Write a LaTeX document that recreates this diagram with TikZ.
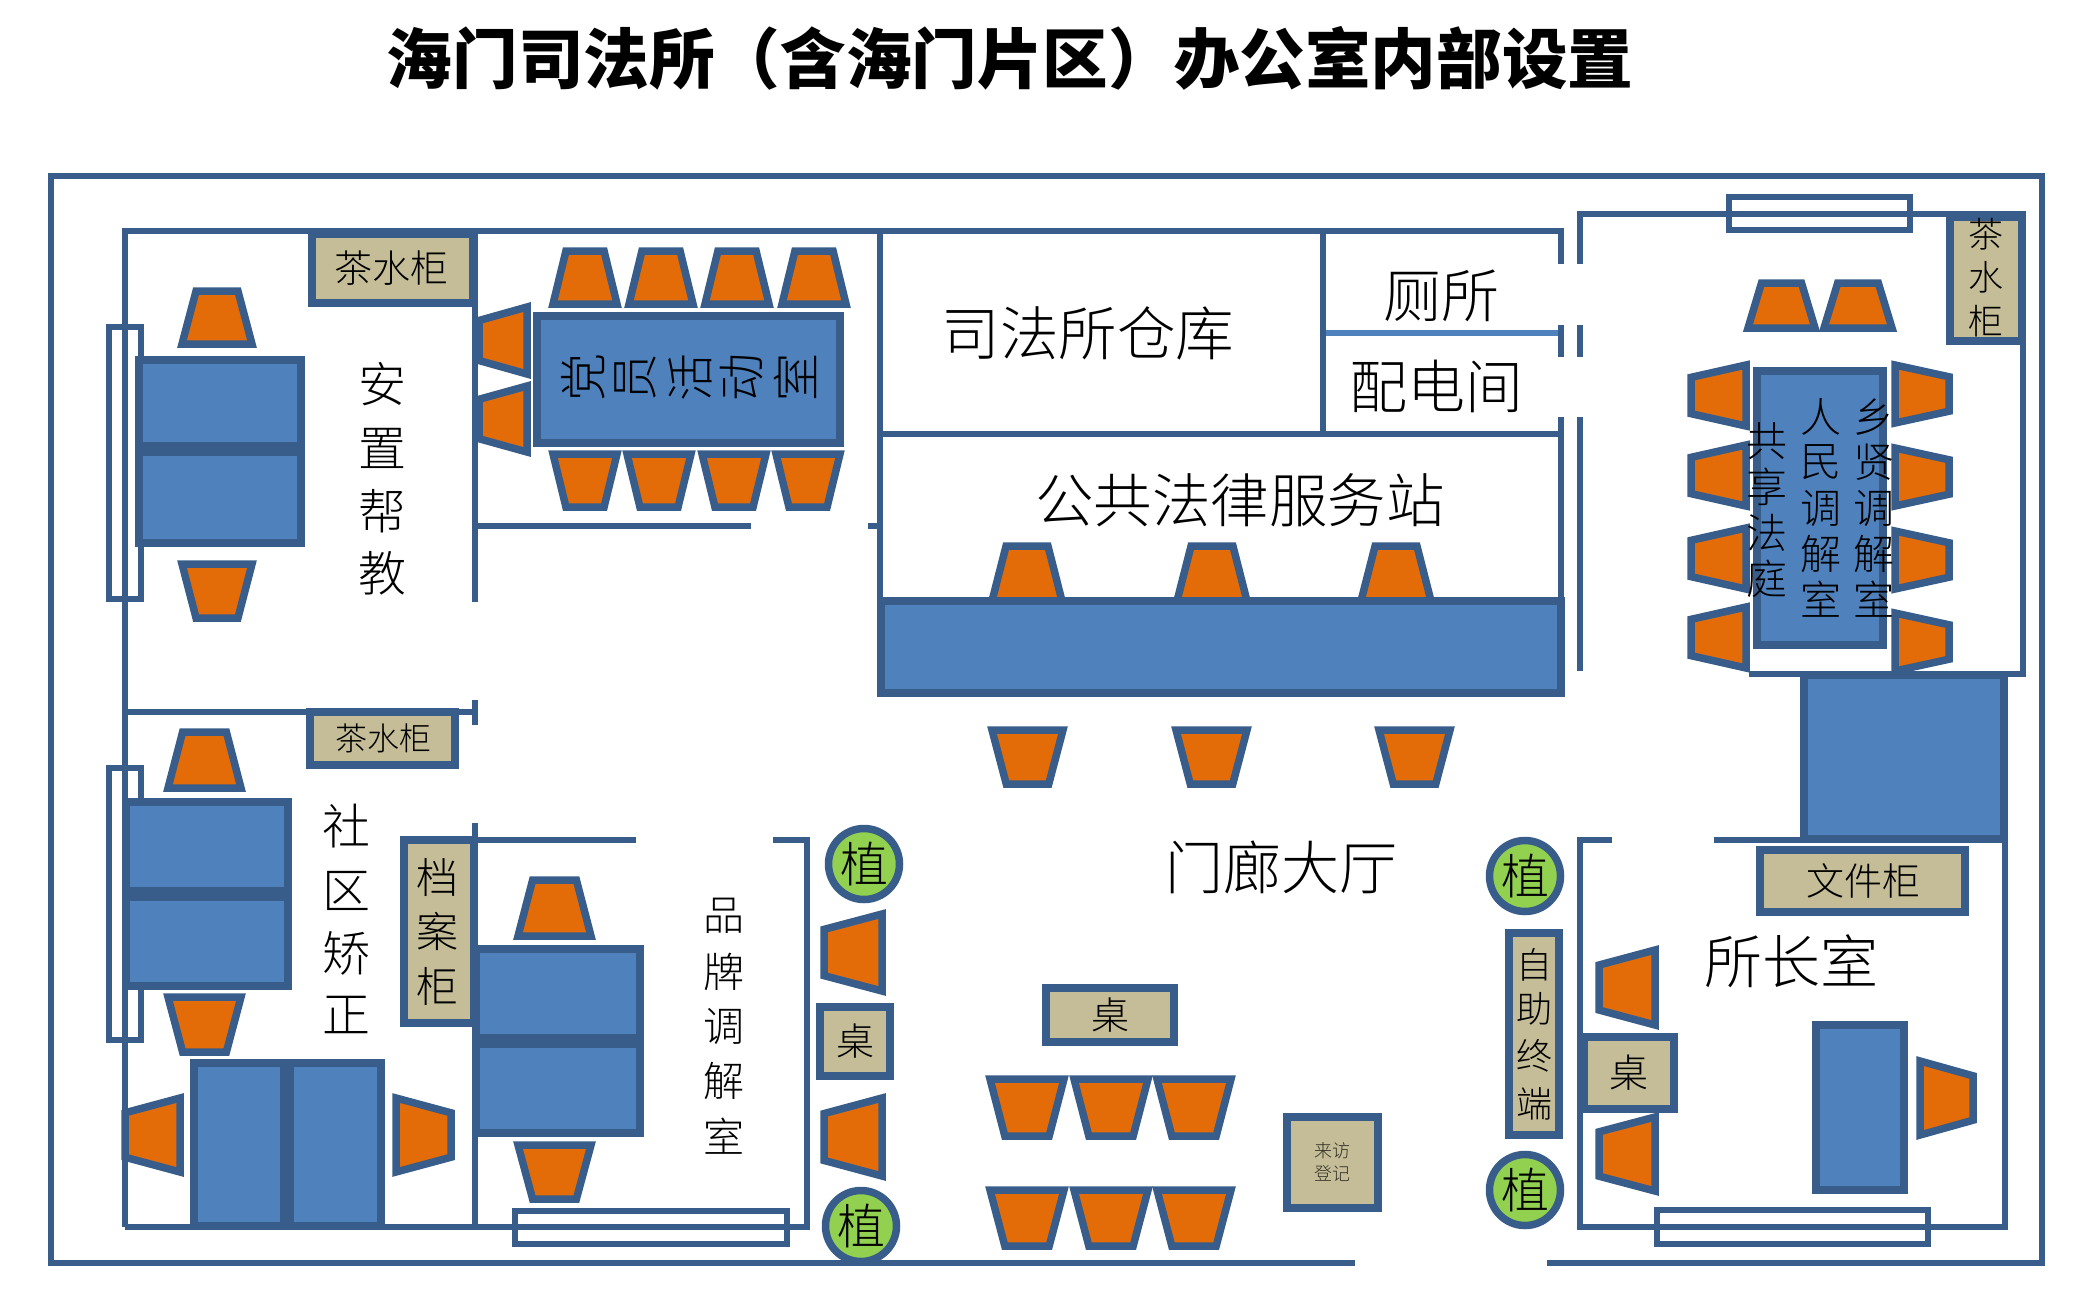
\documentclass[tikz,border=0pt]{standalone}
\usepackage{fontspec}
\setmainfont{Noto Sans CJK SC Light}[BoldFont=Noto Sans CJK SC Black]
\definecolor{wallblue}{HTML}{385D8A}
\definecolor{deskblue}{HTML}{4F81BD}
\definecolor{seatorange}{HTML}{E36C09}
\definecolor{cabinetkhaki}{HTML}{C4BD97}
\definecolor{plantgreen}{HTML}{92D050}
\tikzset{
  wall/.style={draw=wallblue,line width=6.5pt},
  furn/.style={draw=wallblue,line width=7.5pt},
  seat/.style={furn,fill=seatorange},
  desk/.style={furn,fill=deskblue},
  cabinet/.style={furn,fill=cabinetkhaki},
  plant/.style={furn,fill=plantgreen},
  win/.style={furn,line width=6.5pt},
  lbl/.style={inner sep=0pt,align=center},
}
% seats, given by outer edges: x1 x2 y1 y2
\newcommand{\seatup}[4]{\draw[seat] ({#1+2+0.19*(#2-#1)},#3+2) -- ({#2-2-0.19*(#2-#1)},#3+2) -- (#2-2,#4-2) -- (#1+2,#4-2) -- cycle;}
\newcommand{\seatdown}[4]{\draw[seat] (#1+2,#3+2) -- (#2-2,#3+2) -- ({#2-2-0.19*(#2-#1)},#4-2) -- ({#1+2+0.19*(#2-#1)},#4-2) -- cycle;}
\newcommand{\seatleft}[4]{\draw[seat] (#1+2,{#3+2+0.19*(#4-#3)}) -- (#2-2,#3+2) -- (#2-2,#4-2) -- (#1+2,{#4-2-0.19*(#4-#3)}) -- cycle;}
\newcommand{\seatright}[4]{\draw[seat] (#1+2,#3+2) -- (#2-2,{#3+2+0.19*(#4-#3)}) -- (#2-2,{#4-2-0.19*(#4-#3)}) -- (#1+2,#4-2) -- cycle;}
\newcommand{\furnbox}[5]{\draw[#1] (#2+3,#4+3) rectangle (#3-3,#5-3);}
\newcommand{\labelat}[4]{\node[lbl,font=\fontsize{#1}{#1}\selectfont] (#2) at (#3) {#4};}

\begin{document}
\begin{tikzpicture}[x=1pt,y=-1pt]
\useasboundingbox (0,0) rectangle (2091,1310);

% title
\node[lbl,font=\fontsize{65.6}{65.6}\selectfont\bfseries] (title) at (1010,58) {海门司法所（含海门片区）办公室内部设置};

% outer frame
\draw[wall] (1355,1263) -- (51,1263) -- (51,176) -- (2042,176) -- (2042,1263) -- (1547,1263);

% left block walls
\draw[wall] (125,1227) -- (125,231) -- (1561,231) -- (1561,264);
\draw[wall] (1561,325) -- (1561,357);
\draw[wall] (1561,417) -- (1561,693);
\draw[wall] (475,231) -- (475,602);
\draw[wall] (475,700) -- (475,725);
\draw[wall] (125,712) -- (475,712);
\draw[wall] (475,823) -- (475,1227);
\draw[wall] (125,1227) -- (807,1227) -- (807,840) -- (773,840);
\draw[wall] (475,840) -- (636,840);
\draw[wall] (475,526) -- (751,526);
\draw[wall] (868,526) -- (880,526);
\draw[wall] (880,231) -- (880,693);
\draw[wall] (880,434) -- (1561,434);
\draw[wall] (1323,231) -- (1323,434);
\draw[draw=deskblue,line width=6.5pt] (1326,333) -- (1558,333);

% right block walls
\draw[wall] (1580,264) -- (1580,214) -- (2023,214) -- (2023,674) -- (1749,674);
\draw[wall] (1580,325) -- (1580,357);
\draw[wall] (1580,417) -- (1580,671);
\draw[wall] (1612,840) -- (1580,840) -- (1580,1227) -- (2005,1227) -- (2005,674);
\draw[wall] (1714,840) -- (2005,840);

% windows
\furnbox{win}{106}{144}{324}{602}
\furnbox{win}{106}{144}{765}{1043}
\furnbox{win}{512}{790}{1208}{1247}
\furnbox{win}{1654}{1931}{1207}{1247}
\furnbox{win}{1726}{1913}{194}{233}

% 安置帮教
\furnbox{cabinet}{309}{476}{231}{306}
\labelat{38}{teaA}{391,268}{茶水柜}
\seatup{180}{254}{289}{346}
\furnbox{desk}{136}{304}{357}{449}
\furnbox{desk}{136}{304}{449}{546}
\seatdown{180}{254}{562}{620}
\foreach \ch/\yy [count=\i] in {安/384,置/448,帮/511,教/573}
  \node[lbl,font=\fontsize{48}{48}\selectfont] (anzhi\i) at (382,\yy) {\ch};

% 党员活动室
\foreach \xa in {551,627,703,780}{
  \seatup{\xa}{\xa+68}{249}{306}
}
\foreach \xa in {551,625,700,774}{
  \seatdown{\xa}{\xa+68}{452}{509}
}
\seatleft{477}{529}{305}{376}
\seatleft{477}{529}{384}{454}
\furnbox{desk}{534}{843}{313}{446}
\foreach \ch/\xx [count=\i] in {党/583,员/635,活/690,动/742,室/795}
  \node[lbl,rotate=90,font=\fontsize{48}{48}\selectfont] (party\i) at (\xx,377) {\ch};

% 司法所仓库 and neighbours
\labelat{58.5}{store}{1088,333}{司法所仓库}
\labelat{58}{toilet}{1441,296}{厕所}
\labelat{58}{power}{1436,386}{配电间}
\labelat{58.5}{lawhall}{1240,500}{公共法律服务站}

% service desk
\foreach \xa in {990,1175,1359}{
  \seatup{\xa}{\xa+74}{544}{603}
}
\furnbox{desk}{878}{1564}{598}{696}
\foreach \xa in {990,1174,1377}{
  \seatdown{\xa}{\xa+75}{728}{786}
}

% right room
\furnbox{cabinet}{1947}{2025}{214}{344}
\foreach \ch/\yy [count=\i] in {茶/234,水/277,柜/321}
  \node[lbl,font=\fontsize{35}{35}\selectfont] (teaC\i) at (1986,\yy) {\ch};
\seatup{1746}{1817}{281}{330}
\seatup{1822}{1894}{281}{330}
\furnbox{desk}{1754}{1886}{368}{648}
\foreach \ya in {363,443,526,605}{
  \seatleft{1689}{1748}{\ya}{\ya+65}
}
\foreach \ya in {363,446,529,611}{
  \seatright{1893}{1951}{\ya}{\ya+62}
}
\foreach \ch [count=\i from 0] in {共,享,法,庭}
  \node[lbl,font=\fontsize{41}{41}\selectfont] (court\i) at (1767,{441+\i*46}) {\ch};
\foreach \ch [count=\i from 0] in {人,民,调,解,室}
  \node[lbl,font=\fontsize{41}{41}\selectfont] (people\i) at (1821,{417+\i*45.5}) {\ch};
\foreach \ch [count=\i from 0] in {乡,贤,调,解,室}
  \node[lbl,font=\fontsize{41}{41}\selectfont] (village\i) at (1874,{417+\i*45.5}) {\ch};
\furnbox{desk}{1801}{2007}{672}{842}

% 社区矫正
\furnbox{cabinet}{307}{458}{709}{768}
\labelat{32}{teaB}{383,738}{茶水柜}
\seatup{166}{243}{730}{790}
\furnbox{desk}{123}{291}{799}{894}
\furnbox{desk}{123}{291}{894}{989}
\seatdown{166}{243}{995}{1054}
\furnbox{desk}{191}{287}{1060}{1229}
\furnbox{desk}{287}{384}{1060}{1229}
\seatleft{123}{182}{1096}{1174}
\seatright{394}{453}{1096}{1174}
\foreach \ch/\yy [count=\i] in {社/826,区/891,矫/953,正/1015}
  \node[lbl,font=\fontsize{48}{48}\selectfont] (shequ\i) at (346,\yy) {\ch};
\furnbox{cabinet}{401}{477}{837}{1026}
\foreach \ch/\yy [count=\i] in {档/877,案/931,柜/986}
  \node[lbl,font=\fontsize{42}{42}\selectfont] (archive\i) at (437,\yy) {\ch};

% 品牌调解室
\seatup{516}{593}{878}{938}
\furnbox{desk}{473}{643}{946}{1041}
\furnbox{desk}{473}{643}{1041}{1136}
\seatdown{516}{593}{1143}{1201}
\foreach \ch/\yy [count=\i] in {品/916,牌/972,调/1026,解/1081,室/1136}
  \node[lbl,font=\fontsize{41}{41}\selectfont] (brand\i) at (724,\yy) {\ch};
\seatleft{822}{884}{912}{993}
\seatleft{822}{884}{1096}{1178}
\furnbox{cabinet}{817}{893}{1004}{1079}
\labelat{38}{tableA}{855,1041}{桌}
\node[plant,circle,inner sep=0pt,minimum size=71pt,font=\fontsize{48}{48}\selectfont] (plantA) at (864,864) {植};
\node[plant,circle,inner sep=0pt,minimum size=71pt,font=\fontsize{48}{48}\selectfont] (plantB) at (861,1226) {植};

% 门廊大厅
\labelat{58}{hall}{1281,867}{门廊大厅}
\furnbox{cabinet}{1043}{1177}{985}{1045}
\labelat{38}{tableB}{1110,1015}{桌}
\foreach \xa in {988,1072,1155}{
  \seatdown{\xa}{\xa+78}{1077}{1138}
  \seatdown{\xa}{\xa+78}{1188}{1248}
}
\furnbox{cabinet}{1284}{1381}{1114}{1211}
\node[lbl,font=\fontsize{18}{23}\selectfont,text=black!75!cabinetkhaki] (visit) at (1332,1162) {来访\\登记};
\node[plant,circle,inner sep=0pt,minimum size=71pt,font=\fontsize{48}{48}\selectfont] (plantC) at (1525,876) {植};
\node[plant,circle,inner sep=0pt,minimum size=71pt,font=\fontsize{48}{48}\selectfont] (plantD) at (1525,1190) {植};
\furnbox{cabinet}{1506}{1562}{930}{1138}
\foreach \ch/\yy [count=\i] in {自/965,助/1009,终/1056,端/1104}
  \node[lbl,font=\fontsize{36}{36}\selectfont] (kiosk\i) at (1534,\yy) {\ch};

% 所长室
\labelat{58}{chief}{1791,961}{所长室}
\furnbox{cabinet}{1757}{1968}{847}{915}
\labelat{38}{files}{1863,881}{文件柜}
\seatleft{1597}{1657}{948}{1027}
\seatleft{1597}{1657}{1115}{1193}
\furnbox{cabinet}{1581}{1677}{1034}{1112}
\labelat{39}{tableC}{1629,1073}{桌}
\furnbox{desk}{1813}{1907}{1022}{1193}
\seatright{1918}{1975}{1059}{1137}

\end{tikzpicture}
\end{document}
